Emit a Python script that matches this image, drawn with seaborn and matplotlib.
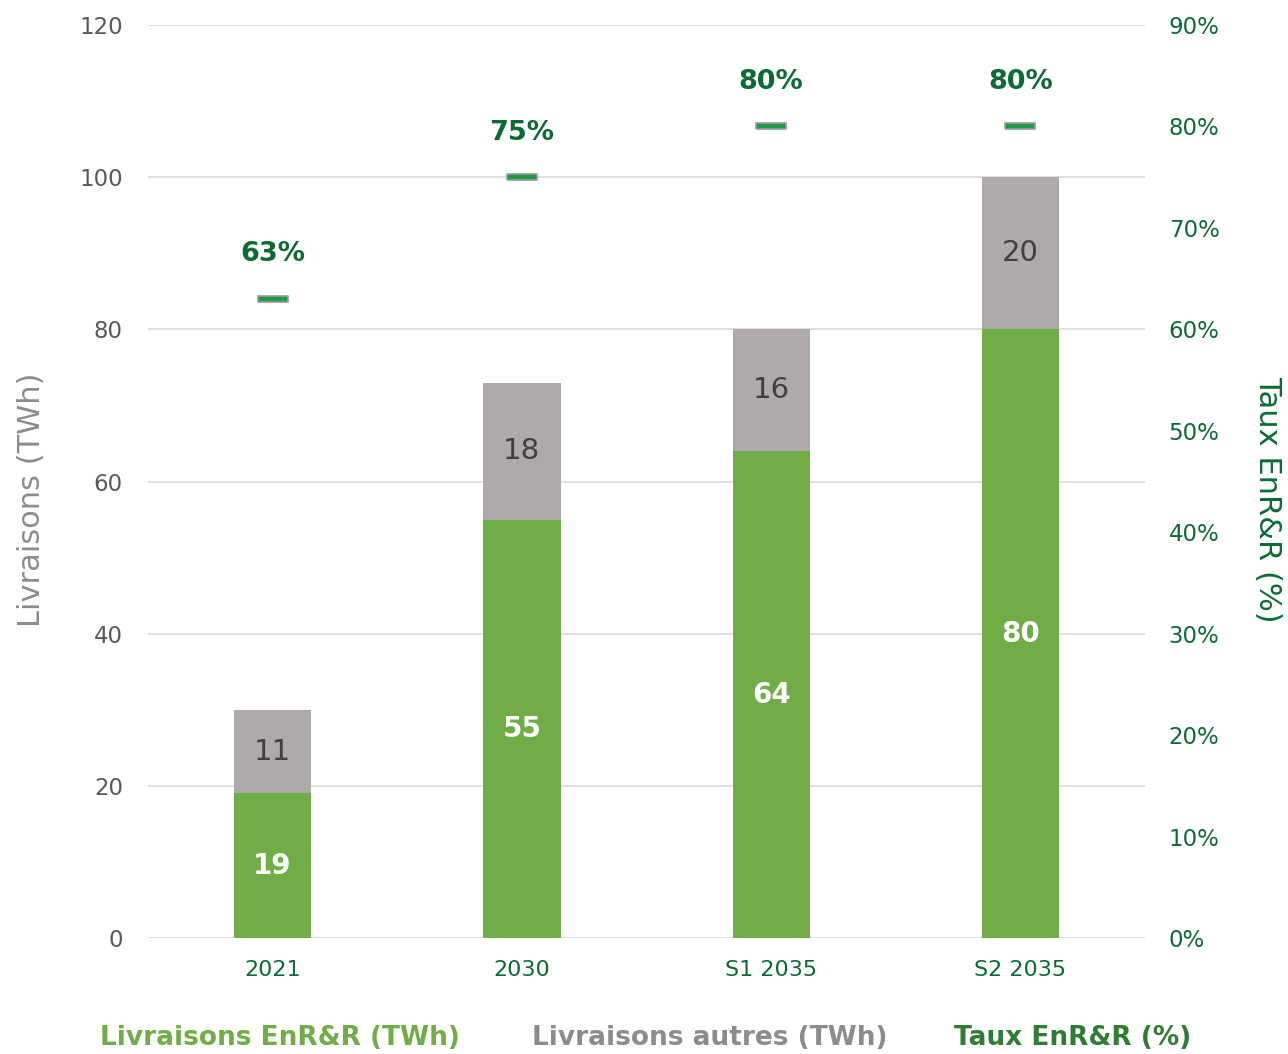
import numpy as np
import pandas as pd
import seaborn as sns
import matplotlib.pyplot as plt

categories = ["2021", "2030", "S1 2035", "S2 2035"]
enrr_twh = [19, 55, 64, 80]
autres_twh = [11, 18, 16, 20]
taux_enrr = [63, 75, 80, 80]

GREEN = "#70ad47"
GREY = "#aeaaaa"
DARK_GREEN = "#0b6b35"
MARK_GREEN = "#1e9a4a"
TICK_GREY = "#595959"

sns.set_theme(style="white")
plt.rcParams["font.family"] = ["DejaVu Sans"]

df = pd.DataFrame({
    "cat": categories,
    "enrr": enrr_twh,
    "autres": autres_twh,
    "taux": taux_enrr,
})
df["total"] = df["enrr"] + df["autres"]

fig = plt.figure(figsize=(12.88, 10.54), dpi=100)
ax = fig.add_axes([0.1149, 0.110, 0.7741, 0.8663])

sns.barplot(data=df, x="cat", y="total", color=GREY, width=0.31,
            saturation=1, linewidth=0, ax=ax)
sns.barplot(data=df, x="cat", y="enrr", color=GREEN, width=0.31,
            saturation=1, linewidth=0, ax=ax)

ax.set_xlim(-0.5, 3.5)
ax.set_ylim(0, 120)
ax.set_yticks(range(0, 121, 20))
ax.grid(axis="y", color="#d9d9d9", linewidth=1.2)
ax.set_axisbelow(True)
for s in ax.spines.values():
    s.set_visible(False)
ax.tick_params(axis="y", length=0, labelsize=16.5, colors=TICK_GREY, pad=18)
ax.tick_params(axis="x", length=0, labelsize=16, colors=DARK_GREEN, pad=16)
ax.set_xlabel("")
ax.set_ylabel("Livraisons (TWh)", fontsize=22, color="#8c8c8c")
ax.yaxis.set_label_coords(-0.102, 0.48)

# bar labels
n = len(df)
for i in range(n):
    ax.text(i, df["enrr"][i] + df["autres"][i] / 2, str(df["autres"][i]),
            ha="center", va="center", fontsize=21, color="#404040")
    ax.text(i, df["enrr"][i] / 2, str(df["enrr"][i]),
            ha="center", va="center", fontsize=20, color="white",
            fontweight="bold")

# right axis: rate
ax2 = ax.twinx()
dash = [(-3, -0.5), (3, -0.5), (3, 0.5), (-3, 0.5), (-3, -0.5)]
sns.scatterplot(data=df, x="cat", y="taux", marker=dash, s=22 ** 2,
                color=MARK_GREEN, edgecolor="#9a9a9a", linewidth=1.2,
                ax=ax2, zorder=5)
ax2.set_ylim(0, 90)
ax2.set_yticks(range(0, 91, 10))
ax2.set_yticklabels([f"{v}%" for v in range(0, 91, 10)])
for s in ax2.spines.values():
    s.set_visible(False)
ax2.tick_params(axis="y", length=0, labelsize=16.5, colors=DARK_GREEN, pad=17)
ax2.set_ylabel("Taux EnR&R (%)", fontsize=22, color=DARK_GREEN, rotation=-90)
ax2.yaxis.set_label_coords(1.137, 0.48)
ax2.set_xlim(-0.5, 3.5)
ax2.set_xlabel("")

for i, v in enumerate(taux_enrr):
    ax2.annotate(f"{v}%", (i, v), xytext=(0, 32), textcoords="offset points",
                 ha="center", va="center", fontsize=19.5, fontweight="bold",
                 color=DARK_GREEN)

# legend as coloured text
ly = 1 - 1038 / 1054
fig.text(280 / 1288, ly, "Livraisons EnR&R (TWh)", ha="center",
         va="center", fontsize=19, fontweight="bold", color=GREEN)
fig.text(710 / 1288, ly, "Livraisons autres (TWh)", ha="center",
         va="center", fontsize=19, fontweight="bold", color="#8c8c8c")
fig.text(1073 / 1288, ly, "Taux EnR&R (%)", ha="center",
         va="center", fontsize=19, fontweight="bold", color="#2e7d32")

fig.savefig("out.png", dpi=100)
